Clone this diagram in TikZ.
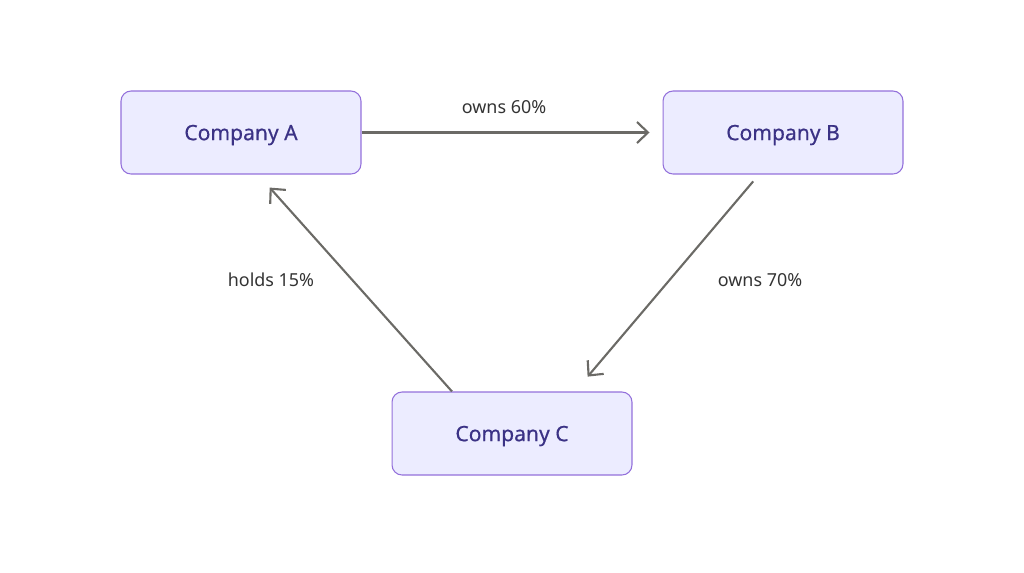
\documentclass[tikz,border=0pt]{standalone}
\usepackage{fontspec}
\setmainfont{Noto Sans}
\newfontfamily\boxfont[FakeBold=0.5]{Noto Sans}
\usetikzlibrary{arrows.meta,calc}
\definecolor{boxfill}{HTML}{ECECFF}
\definecolor{boxline}{HTML}{9370DB}
\definecolor{boxtext}{HTML}{3B3285}
\definecolor{edgeline}{HTML}{6B6A66}
\definecolor{labeltext}{HTML}{333333}
\tikzset{
  company/.style={draw=boxline, fill=boxfill, line width=0.6pt, rounded corners=0.2cm,
    minimum width=4.8cm, minimum height=1.66cm, inner sep=0pt, text depth=0pt,
    text=boxtext, font=\boxfont\fontsize{12}{14}\selectfont},
  holding/.style={draw=edgeline, line width=1.2pt, -{Straight Barb[length=2.2mm,width=4.2mm,line width=1.2pt]}},
  share/.style={text=labeltext, font=\fontsize{10.2}{12}\selectfont}
}
\begin{document}
\begin{tikzpicture}[x=0.02cm,y=-0.02cm]
    \useasboundingbox (0,0) rectangle (1024,572);
    \node[company] (compA) at (241,132.5) {Company A};
    \node[company] (compB) at (783,132.5) {Company B};
    \node[company] (compC) at (512,433.5) {Company C};
    \draw[holding, shorten >=0.26cm] (compA.east) -- (compB.west);
    \draw[holding, shorten <=0.18cm, shorten >=0.39cm] ($(compB.south)+(-24,0)$) -- ($(compC.north)+(63,0)$);
    \draw[holding, shorten >=0.35cm] ($(compC.north)+(-60,0)$) -- ($(compA.south)+(17,0)$);
    \node[share] (ownsAB) at (504,107) {owns 60\%};
    \node[share] (ownsBC) at (760,280) {owns 70\%};
    \node[share] (holdsCA) at (271,280) {holds 15\%};
\end{tikzpicture}
\end{document}
